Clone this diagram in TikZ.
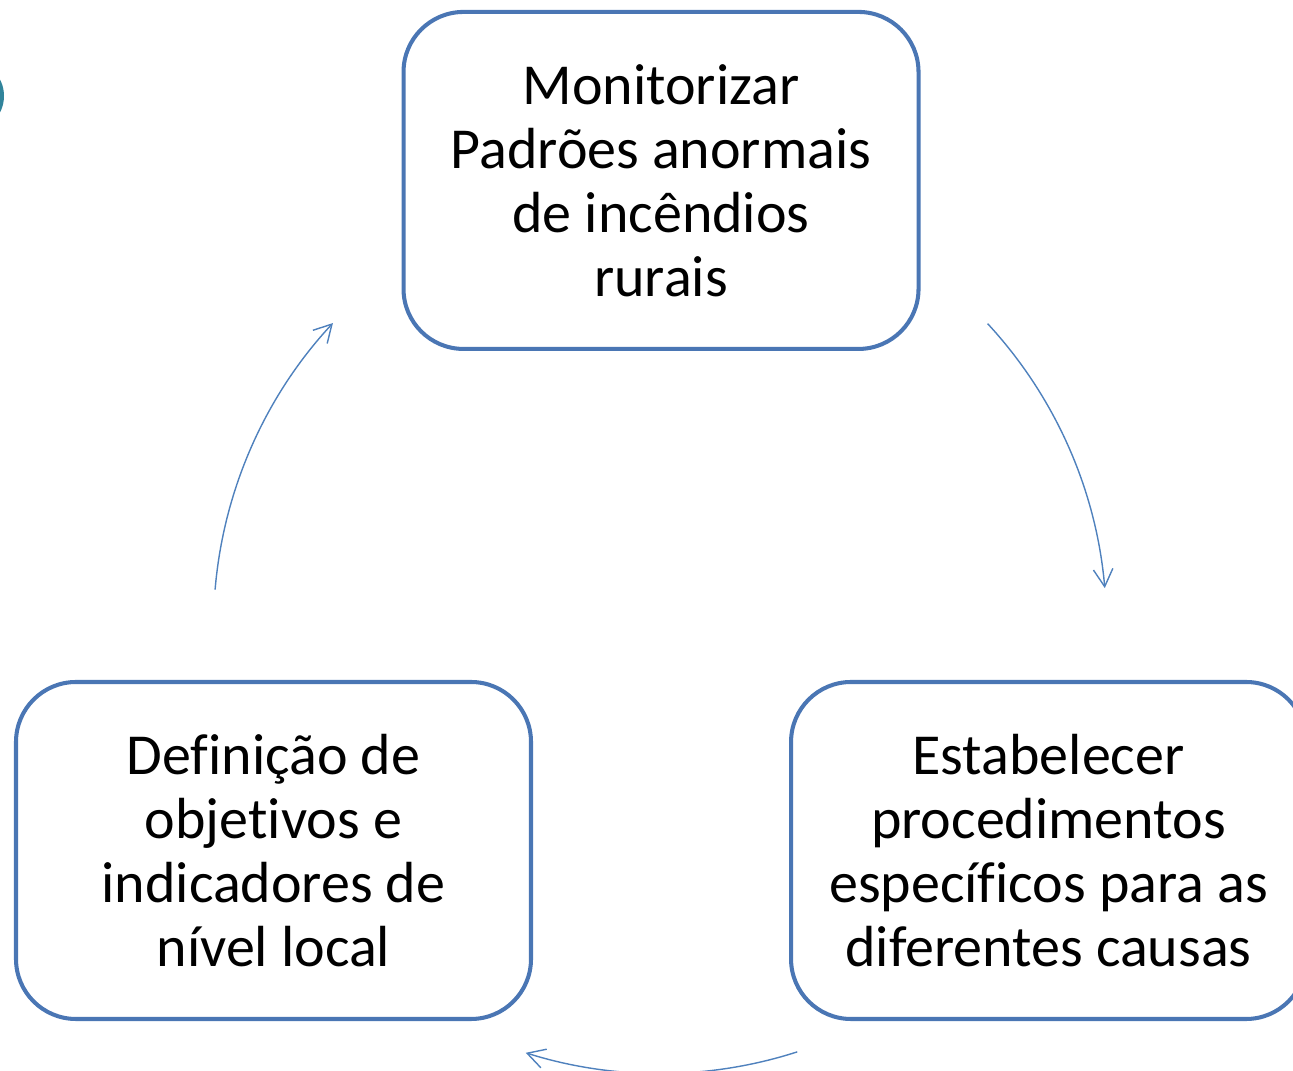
\documentclass[tikz,border=0pt]{standalone}
\usepackage{fontspec}
\setmainfont{Carlito}[Ligatures={NoCommon}]
\usetikzlibrary{arrows.meta,positioning,calc}
\definecolor{cA}{HTML}{4A76B4}
\definecolor{cB}{HTML}{4F81BD}
\definecolor{cT}{HTML}{31849B}
\tikzset{
  box/.style={rounded corners=1.2cm,draw=cA,line width=2.3pt,fill=white,
              minimum width=10.3cm,minimum height=6.74cm,text width=9.8cm,
              align=flush center,font=\fontsize{33pt}{36.4pt}\selectfont},
  cycarrow/.style={-{Straight Barb[length=3.5mm,width=3.9mm]},line width=0.8pt,cB},
}

\begin{document}
\begin{tikzpicture}
  \useasboundingbox (0,0) rectangle (25.86,21.42);
  \clip (0,0) rectangle (25.86,21.42);
  \fill[cT] (-0.64,19.5) circle (0.72);
  \node[box] (def) at (5.47,4.41){Definição de\\objetivos e\\indicadores de\\nível local};
  \node[box,right=5.12cm of def] (est){Estabelecer\\procedimentos\\específicos para as\\diferentes causas};
  \coordinate (mid) at ($(def.north)!0.5!(est.north)$);
  \node[box,above=6.58cm of mid] (mon){Monitorizar\\Padrões anormais\\de incêndios\\rurais};
  % cycle arcs round one centre
  \coordinate (cyc) at (13.2,8.88);
  \coordinate (a1) at ([shift={(175.2:8.93)}]cyc);
  \coordinate (a2) at ([shift={(42.8:8.93)}]cyc);
  \coordinate (a3) at ([shift={(-72.1:8.93)}]cyc);
  \draw[cycarrow] (a1) arc[start angle=175.2,end angle=137.1,radius=8.93];
  \draw[cycarrow] (a2) arc[start angle=42.8,end angle=5,radius=8.93];
  \draw[cycarrow] (a3) arc[start angle=-72.1,end angle=-107.5,radius=8.93];
\end{tikzpicture}
\end{document}
